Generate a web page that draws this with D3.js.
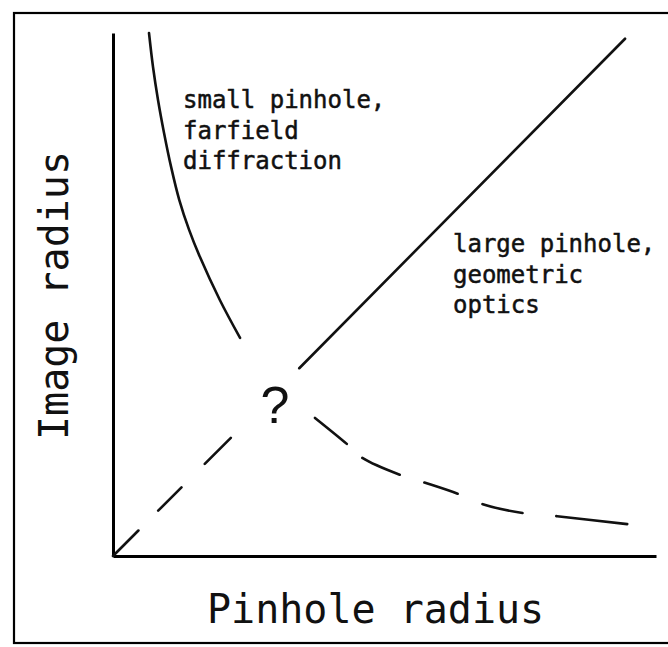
<!DOCTYPE html>
<html>
<head>
<meta charset="utf-8">
<script src="https://cdn.jsdelivr.net/npm/d3@7"></script>
<style>
	body { margin: 0; background: #fff; }
	svg { display: block; }
	.axis path { stroke: #000; stroke-width: 3px; }
	.curve { fill: none; stroke: #111; stroke-width: 2.6px; stroke-linecap: round; }
	.note { font-family: 'DejaVu Sans Mono', monospace; fill: #111; stroke: #111; stroke-width: 0.5px; }
</style>
</head>
<body>
<svg id="chart" width="668" height="647"></svg>
<script>

// geometric optics: image radius grows with pinhole radius
var geomDashX = [ 0, 2.17 ];
var geomDashY = [ 0, 2.26 ];
var geomSolidX = [ 3.43, 9.43 ];
var geomSolidY = [ 3.59, 9.89 ];

// farfield diffraction: image radius falls as pinhole grows
var diffSolidX = [ 0.663, 0.737, 0.829, 0.940, 1.07, 1.22, 1.40, 1.60, 1.97, 2.34 ];
var diffSolidY = [ 10.0, 9.35, 8.72, 8.09, 7.44, 6.81, 6.24, 5.72, 4.89, 4.17 ];
var diffDashX = [ 3.72, 4.31, 4.60, 5.29, 5.75, 6.35, 6.81, 7.55, 8.18, 9.47 ];
var diffDashY = [ 2.64, 2.14, 1.87, 1.55, 1.40, 1.19, 0.99, 0.82, 0.76, 0.61 ];

var diffLabel = [ 'small pinhole,', 'farfield', 'diffraction' ];
var geomLabel = [ 'large pinhole,', 'geometric', 'optics' ];
var xTitle = 'Pinhole radius';
var yTitle = 'Image radius';

var svg = d3.select( '#chart' );

var x = d3.scaleLinear().domain( [ 0, 10 ] ).range( [ 113, 656 ] );
var y = d3.scaleLinear().domain( [ 0, 10 ] ).range( [ 556, 33 ] );

// outer frame, cut off at the right edge
svg.append( 'rect' )
	.attr( 'x', 14 ).attr( 'y', 13 )
	.attr( 'width', 700 ).attr( 'height', 630 )
	.style( 'fill', 'none' ).style( 'stroke', '#000' ).style( 'stroke-width', 2.2 );

svg.append( 'g' )
	.classed( 'axis', true )
	.attr( 'transform', 'translate(0,' + y( 0 ) + ')' )
	.call( d3.axisBottom( x ).ticks( 0 ).tickSizeOuter( 0 ) );

svg.append( 'g' )
	.classed( 'axis', true )
	.attr( 'transform', 'translate(' + x( 0 ) + ',0)' )
	.call( d3.axisLeft( y ).ticks( 0 ).tickSizeOuter( 0 ) );

var zip = function ( xs, ys ) {
	return xs.map( function ( v, i ) { return [ v, ys[i] ]; } );
};

var line = d3.line()
	.x( function ( d ) { return x( d[0] ); } )
	.y( function ( d ) { return y( d[1] ); } )
	.curve( d3.curveCatmullRom.alpha( 0.5 ) );

svg.append( 'path' ).datum( zip( geomDashX, geomDashY ) )
	.attr( 'class', 'curve' ).attr( 'd', line )
	.style( 'stroke-dasharray', '36,28,33,33,40' );

svg.append( 'path' ).datum( zip( geomSolidX, geomSolidY ) )
	.attr( 'class', 'curve' ).attr( 'd', line );

svg.append( 'path' ).datum( zip( diffSolidX, diffSolidY ) )
	.attr( 'class', 'curve' ).attr( 'd', line );

svg.append( 'path' ).datum( zip( diffDashX, diffDashY ) )
	.attr( 'class', 'curve' ).attr( 'd', line )
	.style( 'stroke-dasharray', '41,21,41,26,35,27,41,34,80' );

var block = function ( lines, px, py ) {
	svg.append( 'text' )
		.attr( 'class', 'note' )
		.style( 'font-size', '24px' )
		.selectAll( 'tspan' )
		.data( lines )
		.enter()
		.append( 'tspan' )
		.attr( 'x', px )
		.attr( 'y', function ( d, i ) { return py + i * 30.5; } )
		.text( function ( d ) { return d; } );
};

block( diffLabel, 183, 108 );
block( geomLabel, 453, 252 );

svg.append( 'text' )
	.attr( 'class', 'note' )
	.attr( 'x', 275 ).attr( 'y', 423 )
	.attr( 'text-anchor', 'middle' )
	.style( 'font-size', '52px' )
	.style( 'font-family', 'Liberation Sans, sans-serif' )
	.style( 'stroke-width', 0 )
	.text( '?' );

svg.append( 'text' )
	.attr( 'class', 'note' )
	.attr( 'x', 207 ).attr( 'y', 623 )
	.style( 'font-size', '40px' )
	.style( 'stroke-width', 0 )
	.text( xTitle );

svg.append( 'text' )
	.attr( 'class', 'note' )
	.attr( 'transform', 'translate(68,440) rotate(-90)' )
	.style( 'font-size', '40px' )
	.style( 'stroke-width', 0 )
	.text( yTitle );

</script>
</body>
</html>
